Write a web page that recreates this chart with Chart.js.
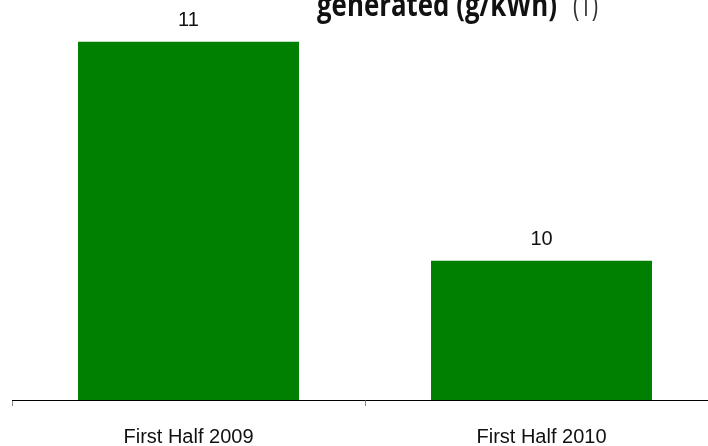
<!DOCTYPE html>
<html>
<head>
<meta charset="utf-8">
<script src="https://cdn.jsdelivr.net/npm/chart.js@4/dist/chart.umd.min.js"></script>
<style>
html,body{margin:0;padding:0;background:#fff;overflow:hidden;width:708px;height:446px;}
canvas{display:block;}
</style>
</head>
<body>
<canvas id="c" width="720" height="446"></canvas>
<script>
const categories = ["First Half 2009", "First Half 2010"];
const values = [11, 10];
const valueLabels = ["11", "10"];
const titleMain = "generated (g/kWh)";
const titleNote = "(1)";

const titlePlugin = {
  id: 'titlePlugin',
  afterDraw(chart) {
    const ctx = chart.ctx;
    ctx.save();
    ctx.textBaseline = 'alphabetic';
    ctx.textAlign = 'left';
    ctx.fillStyle = '#111';
    ctx.font = "bold 25px 'Open Sans'";
    let w = ctx.measureText(titleMain).width;
    ctx.save();
    ctx.translate(317, 16);
    ctx.scale(240 / w, 1.3);
    ctx.fillText(titleMain, 0, 0);
    ctx.restore();
    ctx.fillStyle = '#333';
    ctx.font = "24px 'Open Sans'";
    w = ctx.measureText(titleNote).width;
    ctx.save();
    ctx.translate(573, 16);
    ctx.scale(25 / w, 1.3);
    ctx.fillText(titleNote, 0, 0);
    ctx.restore();
    ctx.restore();
  }
};

const valuePlugin = {
  id: 'valuePlugin',
  afterDatasetsDraw(chart) {
    const ctx = chart.ctx;
    const meta = chart.getDatasetMeta(0);
    ctx.save();
    ctx.font = "20px 'Liberation Sans'";
    ctx.fillStyle = '#111';
    ctx.textAlign = 'center';
    ctx.textBaseline = 'alphabetic';
    meta.data.forEach((bar, i) => {
      ctx.fillText(valueLabels[i], bar.x, bar.y - 16);
    });
    ctx.restore();
  }
};

new Chart(document.getElementById('c'), {
  type: 'bar',
  data: {
    labels: categories,
    datasets: [{
      data: values,
      backgroundColor: '#008000',
      borderWidth: 0,
      barPercentage: 0.626,
      categoryPercentage: 1
    }]
  },
  options: {
    responsive: false,
    animation: false,
    devicePixelRatio: 1,
    layout: { padding: { left: 12, right: 2, top: 0, bottom: 0 } },
    plugins: { legend: { display: false }, tooltip: { enabled: false }, title: { display: false } },
    scales: {
      y: { display: false, min: 9.365, max: 11.19 },
      x: {
        offset: true,
        grid: { display: true, drawOnChartArea: false, drawTicks: true, tickLength: 6, color: '#888', offset: true },
        border: { display: true, color: '#000', width: 1 },
        ticks: { color: '#111', font: { family: "'Liberation Sans'", size: 20 }, padding: 19, maxRotation: 0 },
        afterFit(scale) { scale.height = 46; }
      }
    }
  },
  plugins: [titlePlugin, valuePlugin]
});
</script>
</body>
</html>
